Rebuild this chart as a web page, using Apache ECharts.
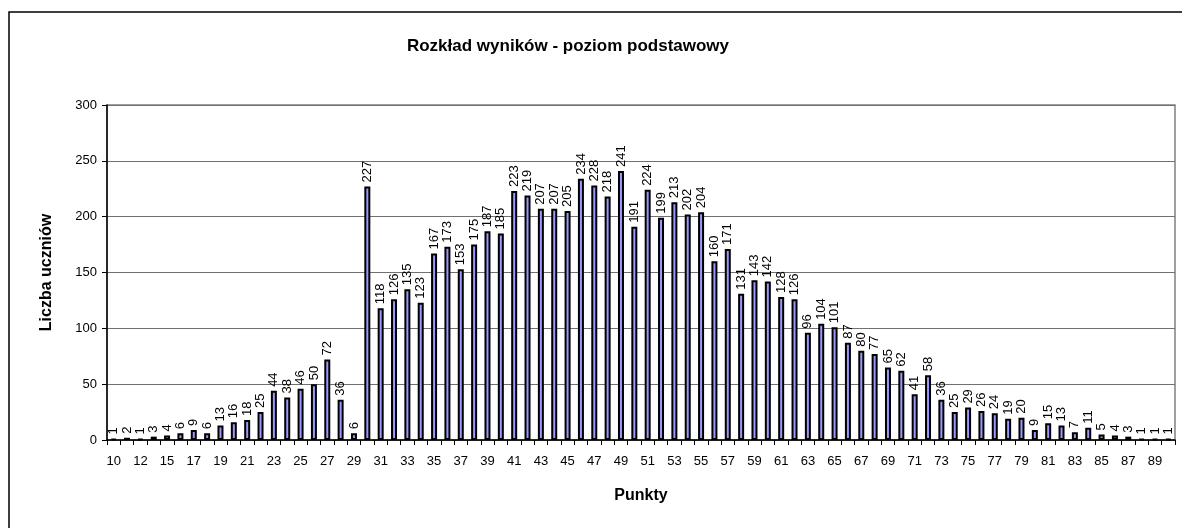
<!DOCTYPE html>
<html>
<head>
<meta charset="utf-8">
<script src="https://cdn.jsdelivr.net/npm/echarts@6/dist/echarts.min.js"></script>
<style>
  html, body { margin: 0; padding: 0; background: #fff; }
  #chart { width: 1182px; height: 528px; }
</style>
</head>
<body>
<div id="chart"></div>
<script>
  // points (one category per bar; 13 is missing in the source chart)
  const punkty = [10, 11, 12, 14, 15, 16, 17, 18, 19, 20, 21, 22, 23, 24, 25, 26, 27, 28, 29, 30,
    31, 32, 33, 34, 35, 36, 37, 38, 39, 40, 41, 42, 43, 44, 45, 46, 47, 48, 49, 50,
    51, 52, 53, 54, 55, 56, 57, 58, 59, 60, 61, 62, 63, 64, 65, 66, 67, 68, 69, 70,
    71, 72, 73, 74, 75, 76, 77, 78, 79, 80, 81, 82, 83, 84, 85, 86, 87, 88, 89, 90];

  const liczbaUczniow = [1, 2, 1, 3, 4, 6, 9, 6, 13, 16, 18, 25, 44, 38, 46, 50, 72, 36, 6, 227,
    118, 126, 135, 123, 167, 173, 153, 175, 187, 185, 223, 219, 207, 207, 205, 234, 228, 218, 241, 191,
    224, 199, 213, 202, 204, 160, 171, 131, 143, 142, 128, 126, 96, 104, 101, 87, 80, 77, 65, 62,
    41, 58, 36, 25, 29, 26, 24, 19, 20, 9, 15, 13, 7, 11, 5, 4, 3, 1, 1, 1];

  const yTicks = [0, 50, 100, 150, 200, 250, 300];

  const font = '"Liberation Sans", Arial, sans-serif';

  let chart = echarts.init(document.getElementById('chart'));

  let option = {
    animation: false,
    textStyle: { fontFamily: font },
    title: {
      text: 'Rozkład wyników - poziom podstawowy',
      left: 563,
      top: 33,
      textAlign: 'center',
      textStyle: { fontSize: 17, fontWeight: 'bold', color: '#000', fontFamily: font }
    },
    graphic: [
      {
        type: 'rect',
        shape: { x: 9, y: 12, width: 1200, height: 600 },
        style: { fill: 'none', stroke: '#000', lineWidth: 1.5 },
        silent: true
      }
    ],
    grid: {
      show: true,
      left: 107,
      right: 7,
      top: 105,
      bottom: 88,
      borderColor: '#808080',
      borderWidth: 1.5,
      backgroundColor: 'transparent'
    },
    xAxis: {
      type: 'category',
      data: punkty,
      name: 'Punkty',
      nameLocation: 'middle',
      nameGap: 48,
      nameTextStyle: { fontSize: 16, fontWeight: 'bold', color: '#000', fontFamily: font },
      axisLine: { lineStyle: { color: '#000', width: 1.5 } },
      axisTick: { show: true, interval: 0, length: 5, lineStyle: { color: '#000' } },
      axisLabel: { interval: 1, fontSize: 13, color: '#000', margin: 15, fontFamily: font },
      splitLine: { show: false }
    },
    yAxis: {
      type: 'value',
      min: yTicks[0],
      max: yTicks[yTicks.length - 1],
      interval: 50,
      name: 'Liczba uczniów',
      nameLocation: 'middle',
      nameGap: 52,
      nameTextStyle: { fontSize: 16, fontWeight: 'bold', color: '#000', fontFamily: font },
      axisLine: { show: true, lineStyle: { color: '#000', width: 1.5 } },
      axisTick: { show: true, length: 5, lineStyle: { color: '#000' } },
      axisLabel: { fontSize: 13, color: '#000', margin: 10, fontFamily: font },
      splitLine: { show: true, lineStyle: { color: '#707070', width: 1.2 } }
    },
    series: [
      {
        type: 'bar',
        data: liczbaUczniow,
        barWidth: 6,
        itemStyle: { color: '#9999ff', borderColor: '#000', borderWidth: 2 },
        label: {
          show: true,
          position: 'top',
          rotate: 90,
          align: 'left',
          verticalAlign: 'middle',
          distance: 4,
          fontSize: 13,
          color: '#000',
          fontFamily: font
        }
      }
    ]
  };

  chart.setOption(option);
</script>
</body>
</html>
